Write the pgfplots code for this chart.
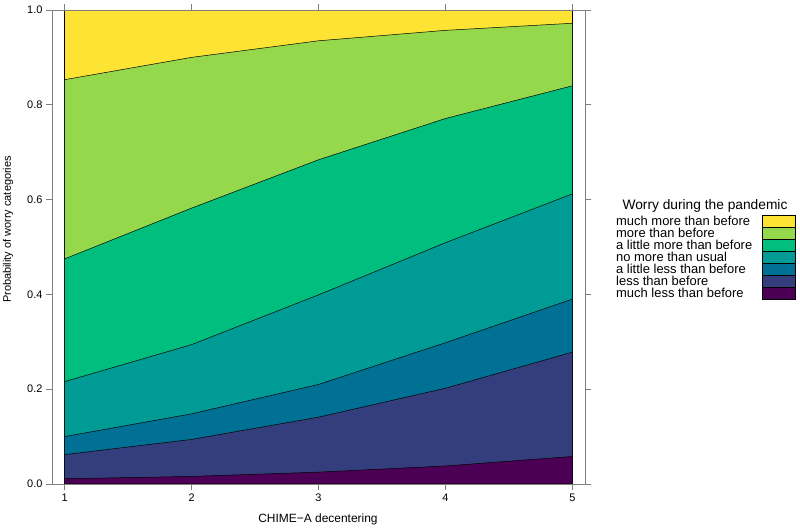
\documentclass[border=0pt]{standalone}
\usepackage{pgfplots}
\pgfplotsset{compat=1.18}
\usepackage{pgfplotstable}
\usepackage{fontspec}
\setmainfont{Liberation Sans}
\definecolor{v1}{HTML}{4B0055}
\definecolor{v2}{HTML}{353E7C}
\definecolor{v3}{HTML}{007094}
\definecolor{v4}{HTML}{009B95}
\definecolor{v5}{HTML}{00BE7D}
\definecolor{v6}{HTML}{96D84B}
\definecolor{v7}{HTML}{FDE333}
\definecolor{axgray}{HTML}{7F7F7F}
% cumulative probabilities (upper boundary of each category)
\pgfplotstableread{
x c1 c2 c3 c4 c5 c6 c7
1 0.011 0.062 0.100 0.216 0.475 0.853 1.0
2 0.016 0.094 0.148 0.294 0.582 0.900 1.0
3 0.025 0.141 0.210 0.399 0.684 0.935 1.0
4 0.038 0.202 0.298 0.509 0.771 0.957 1.0
5 0.058 0.278 0.390 0.612 0.840 0.972 1.0
}\cum
\begin{document}
\begin{tikzpicture}[x=1bp,y=1bp]
\useasboundingbox (0,0) rectangle (800,531);
\begin{axis}[
  at={(52bp,47bp)}, anchor=south west,
  width=533bp, height=474bp, scale only axis,
  xmin=0.9, xmax=5.1, ymin=0, ymax=1,
  xtick={1,2,3,4,5}, ytick={0,0.2,0.4,0.6,0.8,1},
  yticklabel style={/pgf/number format/.cd, fixed, fixed zerofill, precision=1},
  /pgf/number format/assume math mode=true,
  ticklabel style={font=\fontsize{11}{13}\selectfont},
  tick align=outside, major tick length=6bp,
  axis line style={axgray, line width=0.6bp},
  tick style={axgray, line width=0.6bp},
  axis on top,
]
\addplot[fill=v7, draw=black, line width=0.5bp] table[x=x,y=c7]{\cum} \closedcycle;
\addplot[fill=v6, draw=black, line width=0.5bp] table[x=x,y=c6]{\cum} \closedcycle;
\addplot[fill=v5, draw=black, line width=0.5bp] table[x=x,y=c5]{\cum} \closedcycle;
\addplot[fill=v4, draw=black, line width=0.5bp] table[x=x,y=c4]{\cum} \closedcycle;
\addplot[fill=v3, draw=black, line width=0.5bp] table[x=x,y=c3]{\cum} \closedcycle;
\addplot[fill=v2, draw=black, line width=0.5bp] table[x=x,y=c2]{\cum} \closedcycle;
\addplot[fill=v1, draw=black, line width=0.5bp] table[x=x,y=c1]{\cum} \closedcycle;
\end{axis}
\node[rotate=90, anchor=west, inner sep=0pt, font=\fontsize{11}{13}\selectfont] at (8,228) {Probability of worry categories};
\node[font=\fontsize{12}{14}\selectfont] at (318,12) {CHIME−A decentering};
\node[font=\fontsize{13.8}{15}\selectfont] at (705,325) {Worry during the pandemic};
\foreach \c/\t [count=\i from 0] in {v7/much more than before, v6/more than before, v5/a little more than before, v4/no more than usual, v3/a little less than before, v2/less than before, v1/much less than before} {
  \node[anchor=west, inner sep=0pt, font=\fontsize{13}{12}\selectfont] at (616,{531-221-12*\i}) {\t};
  \filldraw[fill=\c, draw=black, line width=0.5bp] (762,{531-215-12*\i}) rectangle (795,{531-227-12*\i});
}
\end{tikzpicture}
\end{document}
